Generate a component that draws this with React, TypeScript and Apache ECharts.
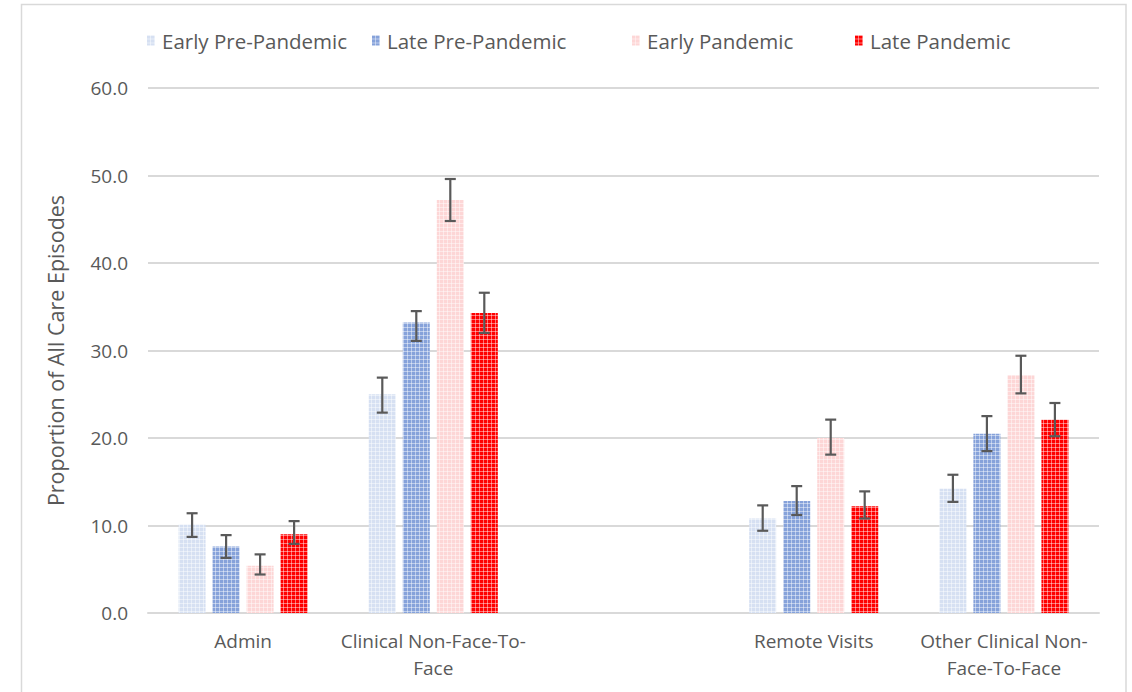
import React, { useEffect, useRef } from "react";
import * as echarts from "echarts";

// Categories (the blank one leaves a gap between the two pairs of groups)
const categories = [
  "Admin",
  "Clinical Non-Face-To-\nFace",
  "",
  "Remote Visits",
  "Other Clinical Non-\nFace-To-Face",
];

const seriesNames = [
  "Early Pre-Pandemic",
  "Late Pre-Pandemic",
  "Early Pandemic",
  "Late Pandemic",
];

// Proportion of all care episodes (%)
const earlyPre = [10.1, 25.0, null, 10.8, 14.2];
const latePre = [7.6, 33.2, null, 12.8, 20.5];
const earlyPandemic = [5.4, 47.2, null, 20.0, 27.2];
const latePandemic = [9.0, 34.3, null, 12.2, 22.1];

// Confidence interval bounds
const earlyPreLow = [8.7, 22.9, null, 9.4, 12.7];
const earlyPreHigh = [11.4, 26.9, null, 12.3, 15.8];
const latePreLow = [6.3, 31.1, null, 11.2, 18.5];
const latePreHigh = [8.9, 34.5, null, 14.5, 22.5];
const earlyPandemicLow = [4.4, 44.8, null, 18.1, 25.1];
const earlyPandemicHigh = [6.7, 49.6, null, 22.1, 29.4];
const latePandemicLow = [7.9, 32.0, null, 10.8, 20.2];
const latePandemicHigh = [10.5, 36.6, null, 13.9, 24.0];

const yTicks = [0, 10, 20, 30, 40, 50, 60];

const values = [earlyPre, latePre, earlyPandemic, latePandemic];
const lows = [earlyPreLow, latePreLow, earlyPandemicLow, latePandemicLow];
const highs = [earlyPreHigh, latePreHigh, earlyPandemicHigh, latePandemicHigh];

const baseColors = ["#d6e0f2", "#86a2da", "#fdd6d6", "#ff0000"];
const legendLeft = [142, 367, 627, 850];

const FONT = "'Open Sans', sans-serif";
const TEXT = "#595959";
const BAR_W = 27;
const BAR_GAP = 7;

// Dotted texture: base colour crossed by a fine light grid
function makePattern(base: string) {
  const c = document.createElement("canvas");
  c.width = 4;
  c.height = 4;
  const g = c.getContext("2d")!;
  g.fillStyle = base;
  g.fillRect(0, 0, 4, 4);
  g.fillStyle = "rgba(255,255,255,0.45)";
  g.fillRect(3, 0, 1, 4);
  g.fillRect(0, 3, 4, 1);
  return { image: c, repeat: "repeat", imageWidth: 4, imageHeight: 4 } as any;
}

export default function App() {
  const ref = useRef<HTMLDivElement>(null);

  useEffect(() => {
    document.body.style.margin = "0";
    const chart = echarts.init(ref.current!, null, { renderer: "svg" });

    const barSeries = seriesNames.map((name, k) => ({
      name,
      type: "bar",
      data: values[k],
      barWidth: BAR_W,
      barGap: `${Math.round((BAR_GAP / BAR_W) * 100)}%`,
      itemStyle: { color: makePattern(baseColors[k]) },
      z: 2,
    }));

    const errData: any[] = [];
    for (let k = 0; k < 4; k++) {
      categories.forEach((_, i) => {
        if (lows[k][i] != null) errData.push([i, lows[k][i], highs[k][i], k]);
      });
    }

    const errorSeries = {
      type: "custom",
      name: "ci",
      z: 5,
      data: errData,
      encode: { x: 0, y: [1, 2] },
      renderItem: (params: any, api: any) => {
        const k = api.value(3);
        const off = (k - 1.5) * (BAR_W + BAR_GAP);
        const cx = api.coord([api.value(0), 0])[0] + off;
        const yLo = api.coord([api.value(0), api.value(1)])[1];
        const yHi = api.coord([api.value(0), api.value(2)])[1];
        const half = 5.5;
        const style = { stroke: "#595959", lineWidth: 2.2 };
        return {
          type: "group",
          children: [
            { type: "line", shape: { x1: cx, y1: yLo, x2: cx, y2: yHi }, style },
            { type: "line", shape: { x1: cx - half, y1: yHi, x2: cx + half, y2: yHi }, style },
            { type: "line", shape: { x1: cx - half, y1: yLo, x2: cx + half, y2: yLo }, style },
          ],
        };
      },
    };

    chart.setOption({
      animation: false,
      backgroundColor: "#ffffff",
      textStyle: { fontFamily: FONT },
      graphic: [
        {
          type: "rect",
          shape: { x: 21.5, y: 4.5, width: 1104.5, height: 700 },
          style: { fill: "none", stroke: "#d9d9d9", lineWidth: 1.5 },
          silent: true,
        },
      ],
      legend: seriesNames.map((name, k) => ({
        data: [name],
        left: legendLeft[k],
        top: 25,
        itemWidth: 8,
        itemHeight: 10,
        icon: "rect",
        textStyle: {
          color: TEXT,
          fontSize: 20.5,
          fontFamily: FONT,
          padding: [0, 0, 0, 2],
        },
        selectedMode: false,
      })),
      grid: { left: 148, right: 33, top: 88, bottom: 79 },
      xAxis: {
        type: "category",
        data: categories,
        axisLine: { lineStyle: { color: "#d9d9d9", width: 2 } },
        axisTick: { show: false },
        axisLabel: {
          interval: 0,
          color: TEXT,
          fontSize: 19,
          fontFamily: FONT,
          lineHeight: 27,
          margin: 14,
        },
      },
      yAxis: {
        type: "value",
        min: yTicks[0],
        max: yTicks[yTicks.length - 1],
        interval: yTicks[1] - yTicks[0],
        name: "Proportion of All Care Episodes",
        nameLocation: "middle",
        nameGap: 82,
        nameTextStyle: { color: TEXT, fontSize: 21.5, fontFamily: FONT },
        axisLine: { show: false },
        axisTick: { show: false },
        splitLine: { lineStyle: { color: "#d9d9d9", width: 2 } },
        axisLabel: {
          color: TEXT,
          fontSize: 19,
          fontFamily: FONT,
          margin: 20,
          formatter: (v: number) => v.toFixed(1),
        },
      },
      series: [...barSeries, errorSeries],
    } as any);

    return () => chart.dispose();
  }, []);

  return <div ref={ref} style={{ width: 1132, height: 692 }} />;
}
